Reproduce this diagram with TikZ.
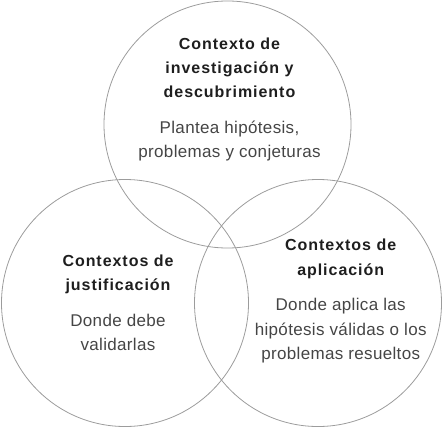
\documentclass[tikz,border=0pt]{standalone}
\usepackage{fontspec}
\setmainfont{Liberation Sans}
\newfontfamily\titlefont[LetterSpace=6]{Liberation Sans Bold}
\newfontfamily\bodyfont[LetterSpace=2]{Liberation Sans}
\definecolor{ringgray}{HTML}{9C9C9C}
\definecolor{titlecol}{HTML}{1E1E1E}
\definecolor{bodycol}{HTML}{454545}
\tikzset{
  ring/.style={draw=ringgray, line width=0.8pt},
  titleline/.style={anchor=base, inner sep=0pt, text=titlecol, font=\titlefont\fontsize{16}{19}\selectfont},
  bodyline/.style={anchor=base, inner sep=0pt, text=bodycol, font=\bodyfont\fontsize{17}{20}\selectfont},
}
\begin{document}
\begin{tikzpicture}[x=1pt,y=-1pt]
\useasboundingbox (0,0) rectangle (443,428);
% circles
\node[ring, circle, minimum size=247pt, inner sep=0pt] (ctop) at (227.5,124.5) {};
\node[ring, circle, minimum size=247pt, inner sep=0pt] (cleft) at (125,303) {};
\node[ring, circle, minimum size=247pt, inner sep=0pt] (cright) at (318,303) {};
% top texts
\node[titleline] (t1) at (229.5,49.3) {Contexto de};
\node[titleline] (t2) at (229.5,73.5) {investigación y};
\node[titleline] (t3) at (229.5,97.7) {descubrimiento};
\node[bodyline] (b1) at (229.5,133) {Plantea hipótesis,};
\node[bodyline] (b2) at (229.5,157) {problemas y conjeturas};
% left texts
\node[titleline] (l1) at (118,266) {Contextos de};
\node[titleline] (l2) at (118,290.5) {justificación};
\node[bodyline] (lb1) at (118,326.7) {Donde debe};
\node[bodyline] (lb2) at (118,350.7) {validarlas};
% right texts
\node[titleline] (r1) at (340.7,250.7) {Contextos de};
\node[titleline] (r2) at (340.7,275) {aplicación};
\node[bodyline] (rb1) at (340.7,310) {Donde aplica las};
\node[bodyline] (rb2) at (340.7,335) {hipótesis válidas o los};
\node[bodyline] (rb3) at (340.7,359) {problemas resueltos};
\end{tikzpicture}
\end{document}
